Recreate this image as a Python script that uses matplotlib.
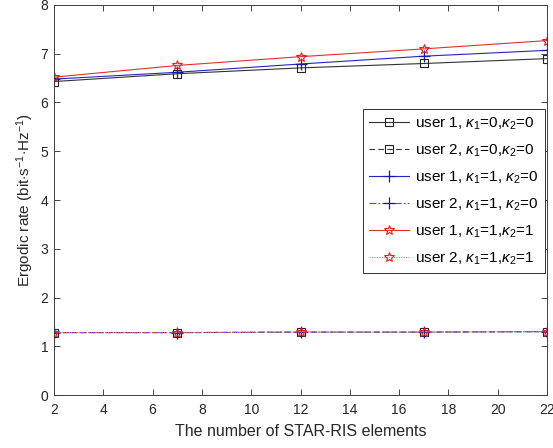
import matplotlib
matplotlib.use("Agg")
import matplotlib.pyplot as plt

plt.rcParams['font.family'] = ['Liberation Sans', 'DejaVu Sans']
plt.rcParams['mathtext.fontset'] = 'custom'
plt.rcParams['mathtext.rm'] = 'Liberation Sans'
plt.rcParams['mathtext.it'] = 'Liberation Sans:italic'
plt.rcParams['mathtext.bf'] = 'Liberation Sans:bold'

N = [2, 7, 12, 17, 22]
u1_k00 = [6.43, 6.59, 6.71, 6.80, 6.90]
u2_k00 = [1.28, 1.28, 1.29, 1.29, 1.30]
u1_k10 = [6.48, 6.62, 6.79, 6.95, 7.07]
u2_k10 = [1.28, 1.28, 1.29, 1.29, 1.30]
u1_k11 = [6.52, 6.76, 6.94, 7.10, 7.27]
u2_k11 = [1.28, 1.28, 1.29, 1.29, 1.30]

labels = [
    r'user 1, $\kappa_1$=0,$\kappa_2$=0',
    r'user 2, $\kappa_1$=0,$\kappa_2$=0',
    r'user 1, $\kappa_1$=1, $\kappa_2$=0',
    r'user 2, $\kappa_1$=1, $\kappa_2$=0',
    r'user 1, $\kappa_1$=1,$\kappa_2$=1',
    r'user 2, $\kappa_1$=1,$\kappa_2$=1',
]

fig = plt.figure(figsize=(5.53, 4.48), dpi=100)
ax = fig.add_axes([54/553, 1-395/448, (547-54)/553, (395-5)/448])

lw = 0.8
ax.plot(N, u1_k00, color='#333333', ls='-', lw=lw, marker='s', ms=6, mfc='none', mec='#222222', mew=0.8, label=labels[0])
ax.plot(N, u2_k00, color='#333333', ls=(0, (5, 3)), lw=lw, marker='s', ms=6, mfc='none', mec='#222222', mew=0.8, label=labels[1])
ax.plot(N, u1_k10, color='#2424c8', ls='-', lw=lw, marker='+', ms=8, mec='#1a1aa0', mew=0.9, label=labels[2])
ax.plot(N, u2_k10, color='#5a46c8', ls=(0, (6, 2, 1.5, 2)), lw=lw, marker='+', ms=8, mec='#1a1aa0', mew=0.9, label=labels[3])
ax.plot(N, u1_k11, color='#e03030', ls='-', lw=lw, marker='*', ms=7.5, mfc='none', mec='#e02020', mew=0.8, label=labels[4])
ax.plot(N, u2_k11, color='#e07070', ls=(0, (1, 1.2)), lw=lw, marker='*', ms=7.5, mfc='none', mec='#e02020', mew=0.8, label=labels[5])

ax.set_xlim(2, 22)
ax.set_ylim(0, 8)
ax.set_xticks(range(2, 23, 2))
ax.set_yticks(range(0, 9))
ax.tick_params(direction='in', top=True, right=True, length=4, width=0.6,
               colors='#262626', labelsize=10)
ax.tick_params(axis='x', pad=6)
ax.tick_params(axis='y', pad=4)
for s in ax.spines.values():
    s.set_color('#404040')
    s.set_linewidth(0.7)

ax.set_xlabel('The number of STAR-RIS elements', fontsize=11.5, color='#262626', labelpad=5)
ax.set_ylabel(r'Ergodic rate (bit$\cdot$s$^{-1}$$\cdot$Hz$^{-1}$)', fontsize=11, color='#262626', labelpad=3)

leg = ax.legend(loc='upper right', bbox_to_anchor=(0.996, 0.733), fontsize=11,
                frameon=True, fancybox=False, edgecolor='#333333', framealpha=1,
                borderpad=0.4, labelspacing=0.7, handlelength=2.6, handletextpad=0.45,
                borderaxespad=0)
leg.get_frame().set_linewidth(0.7)

fig.savefig('out.png', dpi=100)
